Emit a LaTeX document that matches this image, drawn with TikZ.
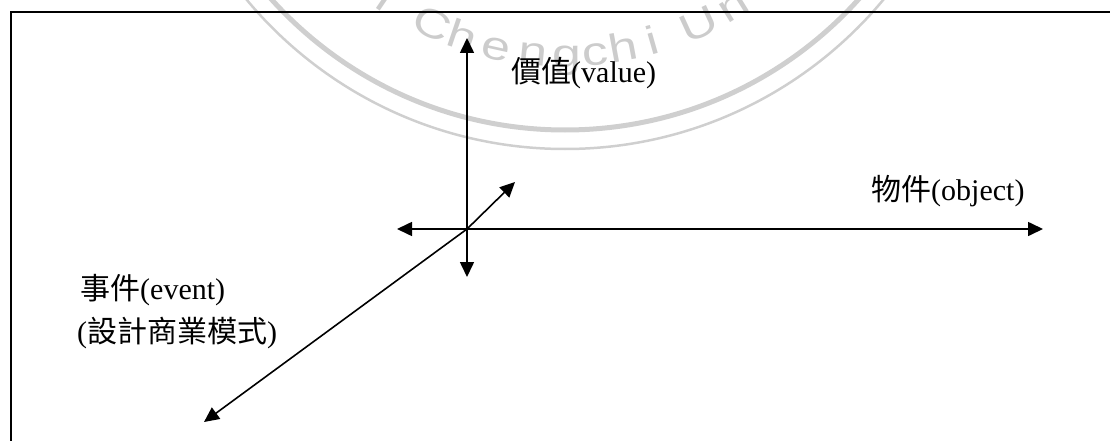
\documentclass[tikz,border=0pt]{standalone}
\usepackage{fontspec}
\setmainfont{Liberation Serif}
\newfontfamily\cjk{Noto Sans CJK TC}
\newfontfamily\wmfont{Liberation Sans}
\usetikzlibrary{arrows.meta}
\begin{document}
\begin{tikzpicture}[x=1pt,y=-1pt,
  axis/.style={line width=1.6pt, -{Triangle[length=15pt,width=14pt]}},
  frame/.style={line width=2pt},
  lab/.style={anchor=base west, inner sep=0pt, font=\fontsize{30}{36}\selectfont},
  wmarc/.style={draw=black!19},
  wmch/.style={anchor=base, inner sep=0pt, text=black!20, font=\wmfont\fontsize{40}{48}\selectfont}]
\useasboundingbox (0,0) rectangle (1110,441);
% watermark
\begin{scope}
\clip (0,0) rectangle (1110,441);
\coordinate (wc) at (565,-265);
\draw[wmarc, line width=5pt] (wc) circle[radius=395];
\draw[wmarc, line width=2.5pt] (wc) circle[radius=414];
\foreach \ch/\a [count=\i] in {l/235.8, C/245.3, h/251.3, e/257.6, n/264.2, g/270.3, c/275.5, h/280.6, i/285.9, U/294.8, n/301.8}
  \node[wmch, rotate=\a-270, xscale=1.3] (wm\i) at ([shift={(360-\a:332)}]wc) {\ch};
\end{scope}
% frame
\coordinate (f1) at (1110,12);
\coordinate (f2) at (11,12);
\coordinate (f3) at (11,441);
\draw[frame] (f1) -- (f2) -- (f3);
% axes
\coordinate (O) at (467,229);
\coordinate (vt) at (467,38);
\coordinate (vb) at (467,277);
\coordinate (hl) at (397,229);
\coordinate (hr) at (1043,229);
\coordinate (dr) at (515,182);
\coordinate (dl) at (204,422);
\draw[axis] (O) -- (vt);
\draw[axis] (O) -- (vb);
\draw[axis] (O) -- (hl);
\draw[axis] (O) -- (hr);
\draw[axis] (O) -- (dr);
\draw[axis] (O) -- (dl);
% labels
\node[lab] (value) at (511,83) {{\cjk 價值}(value)};
\node[lab] (object) at (871,200) {{\cjk 物件}(object)};
\node[lab] (event) at (80,299) {{\cjk 事件}(event)};
\node[lab] (bm) at (77,342) {({\cjk 設計商業模式})};
\end{tikzpicture}
\end{document}
